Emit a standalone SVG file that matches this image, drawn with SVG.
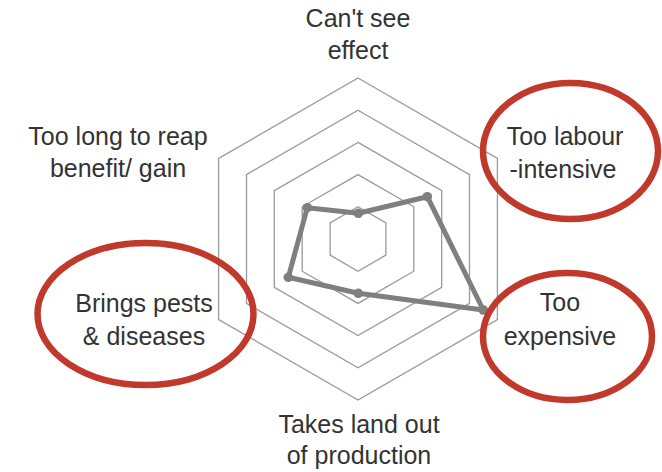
<svg xmlns="http://www.w3.org/2000/svg" width="662" height="472" viewBox="0 0 662 472">
<style>
.grid{fill:none;stroke:#9a9a9a;stroke-width:1.3}
.series{fill:none;stroke:#7f7f7f;stroke-width:5;stroke-linejoin:round}
.dot{fill:#7f7f7f}
.lbl{font-family:"Liberation Sans",Arial,sans-serif;font-size:25px;fill:#333333;text-anchor:middle}
.hl{fill:none;stroke:#c0392b;stroke-width:6.5}
</style>
<rect width="662" height="472" fill="#ffffff"/>
<g id="grid">
<polygon class="grid" points="358,206.8 385.9,222.9 385.9,255.1 358,271.2 330.1,255.1 330.1,222.9"/>
<polygon class="grid" points="358,174.6 413.8,206.8 413.8,271.2 358,303.4 302.2,271.2 302.2,206.8"/>
<polygon class="grid" points="358,142.4 441.7,190.7 441.7,287.3 358,335.6 274.3,287.3 274.3,190.7"/>
<polygon class="grid" points="358,110.2 469.5,174.6 469.5,303.4 358,367.8 246.5,303.4 246.5,174.6"/>
<polygon class="grid" points="358,78 497.4,158.5 497.4,319.5 358,400 218.6,319.5 218.6,158.5"/>
</g>
<g id="connectors">
<polygon class="series" points="358.3,213.3 427.3,196.7 483.3,310 358.3,293.3 288.3,277.3 307.3,207.7"/>
<circle class="dot" cx="358.3" cy="213.3" r="4.8"/>
<circle class="dot" cx="427.3" cy="196.7" r="4.8"/>
<circle class="dot" cx="483.3" cy="310" r="4.8"/>
<circle class="dot" cx="358.3" cy="293.3" r="4.8"/>
<circle class="dot" cx="288.3" cy="277.3" r="4.8"/>
<circle class="dot" cx="307.3" cy="207.7" r="4.8"/>
</g>
<g id="node-cant-see-effect">
<text class="lbl" x="358" y="27">Can't see</text>
<text class="lbl" x="358" y="59">effect</text>
</g>
<g id="node-too-labour-intensive">
<text class="lbl" x="565" y="145">Too labour</text>
<text class="lbl" x="563" y="178">-intensive</text>
<ellipse class="hl" cx="570.5" cy="151" rx="87.5" ry="68"/>
</g>
<g id="node-too-expensive">
<text class="lbl" x="560" y="311">Too</text>
<text class="lbl" x="560" y="345">expensive</text>
<ellipse class="hl" cx="567.5" cy="336.5" rx="84.5" ry="63.5"/>
</g>
<g id="node-takes-land">
<text class="lbl" x="359" y="433">Takes land out</text>
<text class="lbl" x="359" y="464">of production</text>
</g>
<g id="node-brings-pests">
<text class="lbl" x="144" y="312">Brings pests</text>
<text class="lbl" x="144" y="345">&amp; diseases</text>
<ellipse class="hl" cx="145.5" cy="314" rx="108" ry="71"/>
</g>
<g id="node-too-long">
<text class="lbl" x="118" y="145">Too long to reap</text>
<text class="lbl" x="118" y="177">benefit/ gain</text>
</g>
</svg>
